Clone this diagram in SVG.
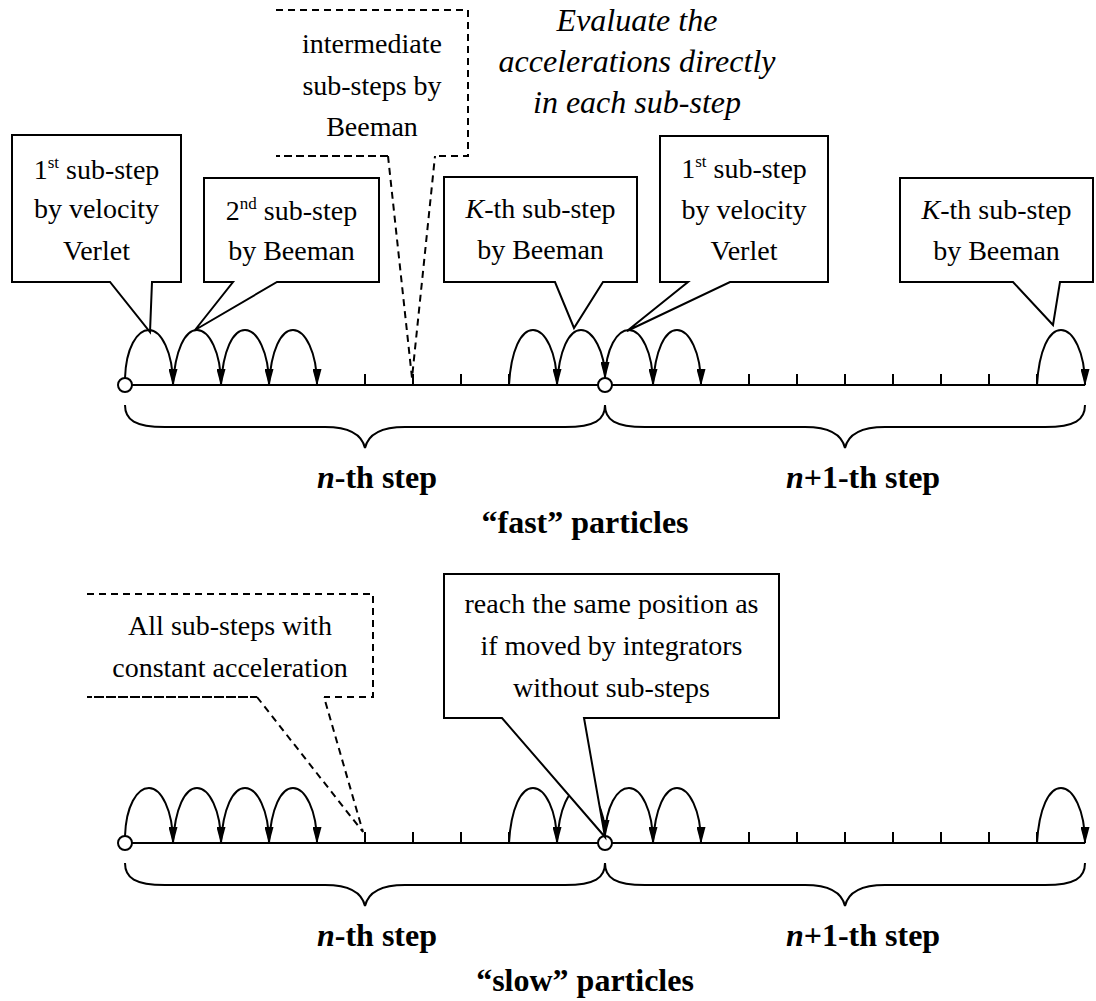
<svg xmlns="http://www.w3.org/2000/svg" width="1096" height="1001" viewBox="0 0 1096 1001">
<style>
  .ln { fill: none; stroke: #000; stroke-width: 2; }
  .box { fill: #fff; stroke: #000; stroke-width: 2; stroke-linejoin: miter; }
  .dbox { fill: #fff; stroke: #000; stroke-width: 2; stroke-dasharray: 7 5; }
  .dln { fill: none; stroke: #000; stroke-width: 2; stroke-dasharray: 7 5; }
  .arc { fill: none; stroke: #000; stroke-width: 2; marker-end: url(#arr); }
  .tick { fill: none; stroke: #000; stroke-width: 2; }
  .dot { fill: #fff; stroke: #000; stroke-width: 2; }
  text { font-family: "Liberation Serif", "Times New Roman", "DejaVu Serif", serif; fill: #000; text-anchor: middle; }
  .t { font-size: 28px; }
  .it { font-size: 32px; font-style: italic; }
  .b { font-size: 32px; font-weight: bold; }
  .sup { font-size: 17px; }
</style>
<defs>
  <marker id="arr" markerUnits="userSpaceOnUse" markerWidth="17" markerHeight="9" viewBox="0 0 17 9" refX="16" refY="4.5" orient="auto">
    <path d="M0,0 L17,4.5 L0,9 Z" fill="#000"/>
  </marker>
</defs>
<rect width="1096" height="1001" fill="#fff"/>

<!-- ===== FAST particles ===== -->
<g id="timeline-fast">
  <path class="ln" d="M125 385 H1085"/>
  <path class="tick" d="M173 374V385M221 374V385M269 374V385M317 374V385M365 374V385M413 374V385M461 374V385M509 374V385M557 374V385M653 374V385M701 374V385M749 374V385M797 374V385M845 374V385M893 374V385M941 374V385M989 374V385M1037 374V385M1085 374V385"/>
  <circle class="dot" cx="125" cy="385" r="7"/>
  <circle class="dot" cx="605" cy="385" r="7"/>
</g>
<g id="connectors">
  <path class="arc" d="M125 378 C126 348 137 330 149 330 C161 330 173 352 173 385"/>
  <path class="arc" d="M173 385 C175 350 185 330 197 330 C209 330 221 352 221 385"/>
  <path class="arc" d="M221 385 C223 350 233 330 245 330 C257 330 269 352 269 385"/>
  <path class="arc" d="M269 385 C271 350 281 330 293 330 C305 330 317 352 317 385"/>
  <path class="arc" d="M509 385 C511 350 521 330 533 330 C545 330 557 352 557 385"/>
  <path class="arc" d="M557 385 C559 350 569 330 581 330 C593 330 605 352 605 378"/>
  <path class="arc" d="M605 378 C606 348 617 330 629 330 C641 330 653 352 653 385"/>
  <path class="arc" d="M653 385 C655 350 665 330 677 330 C689 330 701 352 701 385"/>
  <path class="arc" d="M1037 385 C1039 350 1049 330 1061 330 C1073 330 1085 352 1085 385"/>

  <path class="arc" d="M125 836 C126 806 137 788 149 788 C161 788 173 810 173 843"/>
  <path class="arc" d="M173 843 C175 808 185 788 197 788 C209 788 221 810 221 843"/>
  <path class="arc" d="M221 843 C223 808 233 788 245 788 C257 788 269 810 269 843"/>
  <path class="arc" d="M269 843 C271 808 281 788 293 788 C305 788 317 810 317 843"/>
  <path class="arc" d="M509 843 C511 808 521 788 533 788 C545 788 557 810 557 843"/>
  <path class="arc" d="M557 843 C559 808 569 788 581 788 C593 788 605 810 605 836"/>
  <path class="arc" d="M605 836 C606 806 617 788 629 788 C641 788 653 810 653 843"/>
  <path class="arc" d="M653 843 C655 808 665 788 677 788 C689 788 701 810 701 843"/>
  <path class="arc" d="M1037 843 C1039 808 1049 788 1061 788 C1073 788 1085 810 1085 843"/>
</g>

<g id="brace-fast">
  <path class="ln" d="M125 405 C125 420 135 427 165 427 L325 427 C350 427 362 435 365 448 C368 435 380 427 405 427 L565 427 C595 427 605 420 605 405"/>
  <path class="ln" d="M605 405 C605 420 615 427 645 427 L805 427 C830 427 842 435 845 448 C848 435 860 427 885 427 L1045 427 C1075 427 1085 420 1085 405"/>
  <text class="b" x="377" y="488"><tspan font-style="italic">n</tspan>-th step</text>
  <text class="b" x="863" y="488"><tspan font-style="italic">n</tspan>+1-th step</text>
  <text class="b" x="585" y="533">“fast” particles</text>
</g>

<g id="callout-1st-a">
  <path class="box" d="M12 135 H181 V282 H152 L150 332 L110 282 H12 Z"/>
  <text class="t" x="96.5" y="179">1<tspan class="sup" dy="-11">st</tspan><tspan dy="11"> sub-step</tspan></text>
  <text class="t" x="96.5" y="218">by velocity</text>
  <text class="t" x="96.5" y="260">Verlet</text>
</g>
<g id="callout-2nd">
  <path class="box" d="M204 178 H379 V282 H277 L195 330 L233 282 H204 Z"/>
  <text class="t" x="291.5" y="220">2<tspan class="sup" dy="-11">nd</tspan><tspan dy="11"> sub-step</tspan></text>
  <text class="t" x="291.5" y="260">by Beeman</text>
</g>
<g id="callout-intermediate">
  <path class="dbox" d="M276 10 H468 V156 H435 M388 156 H276 Z"/>
  <path class="dln" d="M388 156 L412 378 L435 156"/>
  <text class="t" x="372" y="53">intermediate</text>
  <text class="t" x="372" y="95">sub-steps by</text>
  <text class="t" x="372" y="136">Beeman</text>
</g>
<g id="note-evaluate">
  <text class="it" x="637" y="31">Evaluate the</text>
  <text class="it" x="637" y="72">accelerations directly</text>
  <text class="it" x="637" y="113">in each sub-step</text>
</g>
<g id="callout-kth-a">
  <path class="box" d="M444 177 H637 V282 H603 L574 328 L555 282 H444 Z"/>
  <text class="t" x="540.5" y="218"><tspan font-style="italic">K</tspan>-th sub-step</text>
  <text class="t" x="540.5" y="259">by Beeman</text>
</g>
<g id="callout-1st-b">
  <path class="box" d="M660 136 H828 V282 H730 L627 331 L688 282 H660 Z"/>
  <text class="t" x="744" y="178">1<tspan class="sup" dy="-11">st</tspan><tspan dy="11"> sub-step</tspan></text>
  <text class="t" x="744" y="219">by velocity</text>
  <text class="t" x="744" y="260">Verlet</text>
</g>
<g id="callout-kth-b">
  <path class="box" d="M900 178 H1093 V282 H1060 L1053 325 L1013 282 H900 Z"/>
  <text class="t" x="996.5" y="219"><tspan font-style="italic">K</tspan>-th sub-step</text>
  <text class="t" x="996.5" y="260">by Beeman</text>
</g>

<!-- ===== SLOW particles ===== -->
<g id="timeline-slow">
  <path class="ln" d="M125 843 H1085"/>
  <path class="tick" d="M173 832V843M221 832V843M269 832V843M317 832V843M365 832V843M413 832V843M461 832V843M509 832V843M557 832V843M653 832V843M701 832V843M749 832V843M797 832V843M845 832V843M893 832V843M941 832V843M989 832V843M1037 832V843M1085 832V843"/>
  <circle class="dot" cx="125" cy="843" r="7"/>
  <circle class="dot" cx="605" cy="843" r="7"/>
</g>
<g id="brace-slow">
  <path class="ln" d="M125 863 C125 878 135 885 165 885 L325 885 C350 885 362 893 365 906 C368 893 380 885 405 885 L565 885 C595 885 605 878 605 863"/>
  <path class="ln" d="M605 863 C605 878 615 885 645 885 L805 885 C830 885 842 893 845 906 C848 893 860 885 885 885 L1045 885 C1075 885 1085 878 1085 863"/>
  <text class="b" x="377" y="946"><tspan font-style="italic">n</tspan>-th step</text>
  <text class="b" x="863" y="946"><tspan font-style="italic">n</tspan>+1-th step</text>
  <text class="b" x="585" y="991">“slow” particles</text>
</g>
<g id="callout-constant">
  <path class="dbox" d="M87 594 H373 V697 H324 M257 697 H87 Z"/>
  <path class="dln" d="M257 697 L363 832 L324 697"/>
  <text class="t" x="230" y="635">All sub-steps with</text>
  <text class="t" x="230" y="677">constant acceleration</text>
</g>
<g id="callout-same-position">
  <path class="box" d="M444 574 H779 V718 H584 L605 837 L502 718 H444 Z"/>
  <text class="t" x="611.5" y="613">reach the same position as</text>
  <text class="t" x="611.5" y="655">if moved by integrators</text>
  <text class="t" x="611.5" y="697">without sub-steps</text>
</g>
</svg>
